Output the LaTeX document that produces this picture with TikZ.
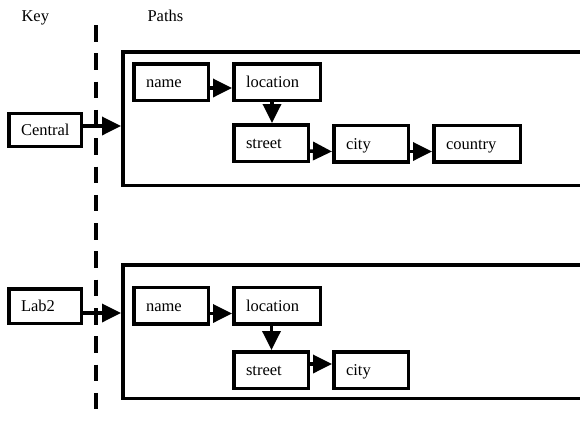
\documentclass[tikz,border=0pt]{standalone}
\usepackage{fontspec}
\setmainfont{Liberation Serif}
\usetikzlibrary{arrows.meta}

\begin{document}
\begin{tikzpicture}[x=1pt,y=-1pt,
  every node/.style={font=\fontsize{16.5}{19}\selectfont},
  field/.style={draw, line width=3.5pt, inner xsep=12.25pt, inner ysep=0pt,
    text height=12pt, text depth=1pt, align=left, minimum height=36.5pt},
  short/.style={field, text width=50pt},
  long/.style={field, text width=62pt},
  keybox/.style={field, text width=48pt, minimum height=33pt},
  pathbox/.style={draw, line width=3.5pt, minimum width=520pt, minimum height=133.5pt, anchor=west},
  link/.style={line width=3.5pt, -{Triangle[length=19pt,width=18pt]}},
  divider/.style={line width=4pt, dash pattern=on 16.5pt off 11.8pt}
]
\useasboundingbox (0,0) rectangle (580,421);
\clip (0,0) rectangle (580,421);

% column headings
\node[anchor=base west] (keyhead) at (18,21.5) {Key};
\node[anchor=base west] (pathhead) at (144,21.5) {Paths};

% dashed divider between the key column and the paths
\coordinate (divtop) at (96,25);
\coordinate (divbot) at (96,421);
\draw[divider] (divtop) -- (divbot);

% ---- Central ----
\node[keybox] (central) at (45,130) {Central};
\node[pathbox] (paths1) at (121,118.5) {};
\node[short] (name1) at (171,82) {name};
\node[long] (loc1) at (277,82) {location};
\node[short] (street1) at (271,143) {street};
\node[short] (city1) at (371,143.5) {city};
\node[long] (country1) at (477,143.5) {country};

\coordinate (c1) at ([yshift=4pt]central.east);
\draw[link] (c1) -- (c1 -| paths1.west);
\draw[link] ([yshift=-6pt]name1.east) -- ([yshift=-6pt]loc1.west);
\coordinate (d1) at ([xshift=-5pt]loc1.south);
\draw[link] (d1) -- (d1 |- street1.north);
\draw[link] ([yshift=-8pt]street1.east) -- ([yshift=-8pt]city1.west);
\draw[link] ([yshift=-8pt]city1.east) -- ([yshift=-8pt]country1.west);

% ---- Lab2 ----
\node[keybox, minimum height=34.5pt] (lab2) at (45,306) {Lab2};
\node[pathbox] (paths2) at (121,331.5) {};
\node[short] (name2) at (171,305.5) {name};
\node[long] (loc2) at (277,305.5) {location};
\node[short] (street2) at (271,370) {street};
\node[short] (city2) at (371,370) {city};

\coordinate (c2) at ([yshift=-7pt]lab2.east);
\draw[link] (c2) -- (c2 -| paths2.west);
\draw[link] ([yshift=-8pt]name2.east) -- ([yshift=-8pt]loc2.west);
\coordinate (d2) at ([xshift=-5.5pt]loc2.south);
\draw[link] (d2) -- (d2 |- street2.north);
\draw[link] ([yshift=6pt]street2.east) -- ([yshift=6pt]city2.west);
\end{tikzpicture}
\end{document}
